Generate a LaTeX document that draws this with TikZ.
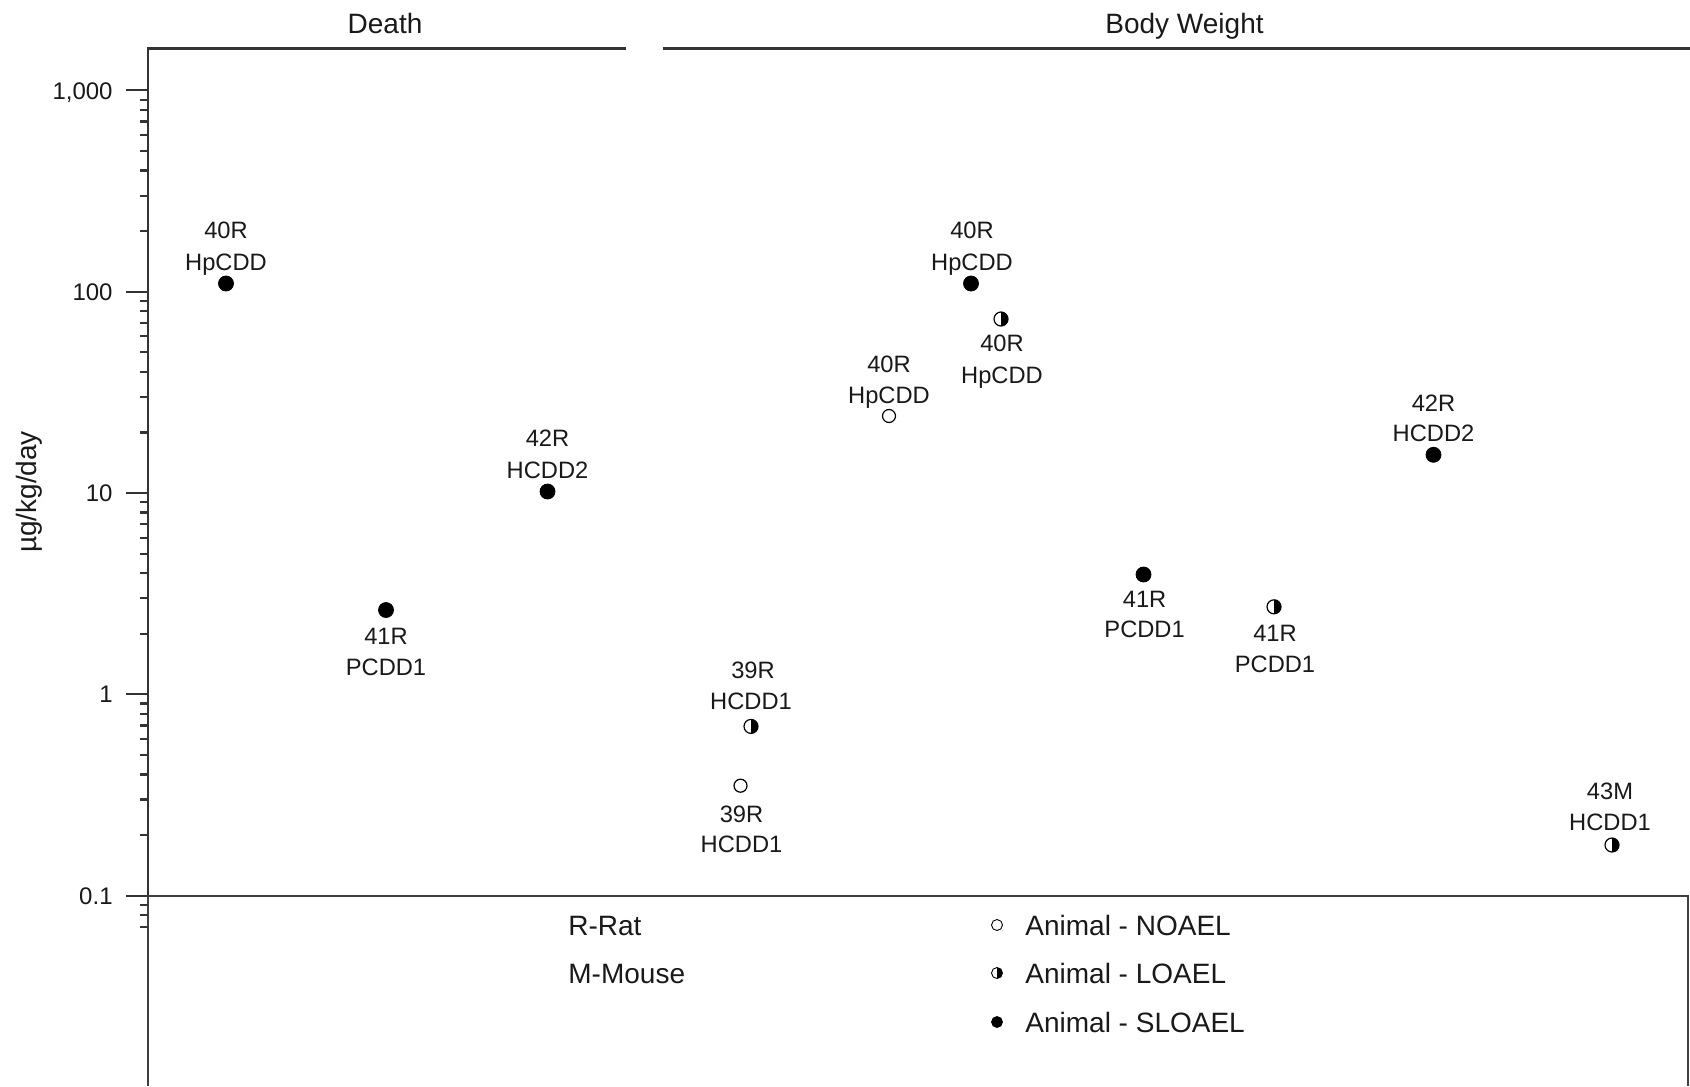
\documentclass[tikz,border=0pt]{standalone}
\usepackage{fontspec}
\setmainfont{Liberation Sans}
\begin{document}
\begin{tikzpicture}[x=0.5pt,y=-0.5pt,
 lbl/.style={font=\fontsize{11.85}{14}\selectfont, inner sep=0pt, text height=8.5pt, text depth=0pt, text=black!90},
 ticklbl/.style={font=\fontsize{12}{14}\selectfont, inner sep=0pt, text height=8.6pt, text depth=0pt, anchor=east, text=black!90},
 big/.style={font=\fontsize{14}{16}\selectfont, inner sep=0pt, text height=10pt, text depth=0pt, text=black!90},
 sloael/.style={circle, draw=black, fill=black, inner sep=0pt, minimum size=7.5pt},
 noael/.style={circle, draw=black, fill=white, line width=0.6pt, inner sep=0pt, minimum size=6.5pt},
 loael/.style={circle, draw=black, fill=white, line width=0.6pt, inner sep=0pt, minimum size=7pt,
   path picture={\fill[black] (path picture bounding box.north) rectangle (path picture bounding box.south east);}},
 axisline/.style={line width=1.1pt, draw=black!80}]

\useasboundingbox (0,0) rectangle (1690,1086);

% axis and frame
\draw[axisline] (148,1086) -- (148,48.5) -- (626,48.5);
\draw[axisline] (663,48.5) -- (1690,48.5);
\draw[line width=0.9pt, draw=black!75] (148,1086) -- (148,896) -- (1688,896) -- (1688,1086);

% major ticks
\foreach \e/\t in {-1/0.1,0/1,1/10,2/100,3/{1,000}} {
  \pgfmathsetmacro\yy{895.6-201.3*(\e+1)}
  \draw[axisline] (126,\yy) -- (148,\yy);
  \node[ticklbl] (tk\e) at (113,\yy) {\t};
}
% minor ticks
\foreach \e in {-1,0,1,2} {
  \foreach \m in {2,...,9} {
    \pgfmathsetmacro\yy{895.6-201.3*(\e+1+ln(\m)/ln(10))}
    \draw[axisline] (140,\yy) -- (148,\yy);
  }
}
\foreach \m in {7,8,9} {
  \pgfmathsetmacro\yy{895.6-201.3*(ln(\m)/ln(10)-1)}
  \draw[axisline] (140,\yy) -- (148,\yy);
}

% axis title and headers
\node[big, rotate=90] (ytitle) at (26,492) {µg/kg/day};
\node[big] (hdeath) at (385,23.7) {Death};
\node[big] (hbw) at (1184.5,23.7) {Body Weight};

% Death
\node[sloael] (m1) at (226,283.5) {};
\node[lbl] (m1a) at (226,229.6) {40R};
\node[lbl] (m1b) at (226,262) {HpCDD};

\node[sloael] (m2) at (386,610) {};
\node[lbl] (m2a) at (386,636) {41R};
\node[lbl] (m2b) at (386,667) {PCDD1};

\node[sloael] (m3) at (547.5,491.5) {};
\node[lbl] (m3a) at (547.5,437.6) {42R};
\node[lbl] (m3b) at (547.5,470) {HCDD2};

% Body weight
\node[loael] (m4) at (751,726.4) {};
\node[lbl] (m4a) at (753,670) {39R};
\node[lbl] (m4b) at (751,700.6) {HCDD1};

\node[noael] (m5) at (740.5,785.7) {};
\node[lbl] (m5a) at (741.5,813.7) {39R};
\node[lbl] (m5b) at (741.5,844) {HCDD1};

\node[noael] (m6) at (889,416) {};
\node[lbl] (m6a) at (889,364) {40R};
\node[lbl] (m6b) at (889,394.5) {HpCDD};

\node[sloael] (m7) at (971,283.5) {};
\node[lbl] (m7a) at (972,229.6) {40R};
\node[lbl] (m7b) at (972,262) {HpCDD};

\node[loael] (m8) at (1001,319) {};
\node[lbl] (m8a) at (1002,342.7) {40R};
\node[lbl] (m8b) at (1002,375) {HpCDD};

\node[sloael] (m9) at (1143.5,574.5) {};
\node[lbl] (m9a) at (1144.6,599) {41R};
\node[lbl] (m9b) at (1144.6,629.4) {PCDD1};

\node[loael] (m10) at (1274,606.8) {};
\node[lbl] (m10a) at (1275,632.7) {41R};
\node[lbl] (m10b) at (1275,664) {PCDD1};

\node[sloael] (m11) at (1433.5,454.8) {};
\node[lbl] (m11a) at (1433.5,403) {42R};
\node[lbl] (m11b) at (1433.5,433) {HCDD2};

\node[loael] (m12) at (1612,845) {};
\node[lbl] (m12a) at (1610,791) {43M};
\node[lbl] (m12b) at (1610,822.4) {HCDD1};

% legend
\node[big, anchor=west] (lr) at (568,925) {R-Rat};
\node[big, anchor=west] (lm) at (568,973) {M-Mouse};
\node[noael, minimum size=5.5pt, line width=0.45pt] (ln) at (997,925) {};
\node[loael, minimum size=5.5pt, line width=0.45pt] (ll) at (997,973) {};
\node[sloael, minimum size=5.5pt] (ls) at (997,1022) {};
\node[big, anchor=west] (lnt) at (1025,925) {Animal - NOAEL};
\node[big, anchor=west] (llt) at (1025,973) {Animal - LOAEL};
\node[big, anchor=west] (lst) at (1025,1022) {Animal - SLOAEL};
\end{tikzpicture}
\end{document}
